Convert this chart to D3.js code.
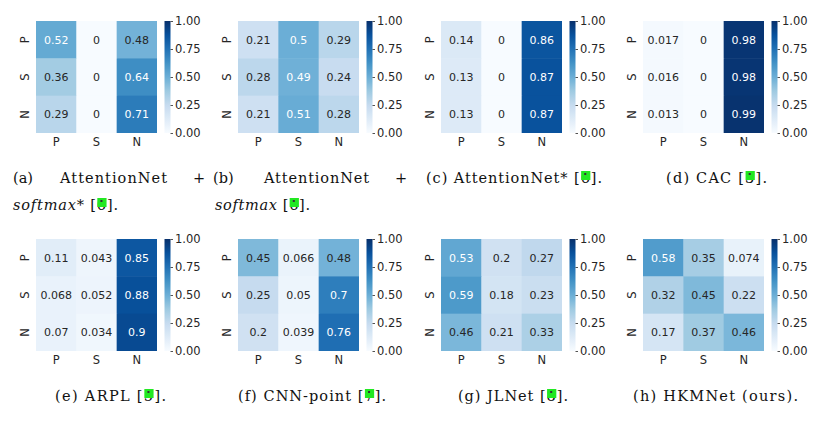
<!DOCTYPE html>
<html><head><meta charset="utf-8">
<script src="https://cdn.jsdelivr.net/npm/d3@7"></script>
<style>body{margin:0;background:#fff} svg{display:block}</style>
</head><body>
<svg id="c" width="814" height="422"></svg>
<script>
const categories = ["P", "S", "N"];
const colorbarTicks = [0, 0.25, 0.5, 0.75, 1];

const attnSoftmaxStar = [[0.52, 0, 0.48], [0.36, 0, 0.64], [0.29, 0, 0.71]];
const attnSoftmax     = [[0.21, 0.5, 0.29], [0.28, 0.49, 0.24], [0.21, 0.51, 0.28]];
const attnStar        = [[0.14, 0, 0.86], [0.13, 0, 0.87], [0.13, 0, 0.87]];
const cac             = [[0.017, 0, 0.98], [0.016, 0, 0.98], [0.013, 0, 0.99]];
const arpl            = [[0.11, 0.043, 0.85], [0.068, 0.052, 0.88], [0.07, 0.034, 0.9]];
const cnnPoint        = [[0.45, 0.066, 0.48], [0.25, 0.05, 0.7], [0.2, 0.039, 0.76]];
const jlNet           = [[0.53, 0.2, 0.27], [0.59, 0.18, 0.23], [0.46, 0.21, 0.33]];
const hkmNet          = [[0.58, 0.35, 0.074], [0.32, 0.45, 0.22], [0.17, 0.37, 0.46]];

const panels = [attnSoftmaxStar, attnSoftmax, attnStar, cac, arpl, cnnPoint, jlNet, hkmNet];

// caption pieces: [x, baseline y, end x (or null), normal text, italic text, citation number]
const captionPieces = [
  [13, 183, null, "(a)", null, null],
  [60, 183, 167, "AttentionNet", null, null],
  [193, 183, null, "+", null, null],
  [13, 210, 118, "", "softmax*", "6"],
  [213, 183, null, "(b)", null, null],
  [264, 183, 369, "AttentionNet", null, null],
  [395, 183, null, "+", null, null],
  [215, 210, 310, "", "softmax", "6"],
  [426, 183, 602, "(c) AttentionNet*", null, "6"],
  [666, 183, 767, "(d) CAC", null, "3"],
  [55, 401, 166, "(e) ARPL", null, "5"],
  [238, 401, 386, "(f) CNN-point", null, "7"],
  [458, 401, 568, "(g) JLNet", null, "8"],
  [633, 401, 798, "(h) HKMNet (ours).", null, null]
];

const svg = d3.select("#c");
svg.append("rect").attr("width", 814).attr("height", 422).attr("fill", "#fff");
const blues = d3.piecewise(d3.interpolateRgb, d3.schemeBlues[9]);
const color = d3.scaleSequential(blues).domain([0, 1]);
const fmt = d3.format(".2~g");
const tickFmt = d3.format(".2f");
const colX = [36, 238, 441, 643], rowY = [21, 239], W = 121, H = 112;
const txt = "#262626";

function lum(c) {
  const r = d3.rgb(c);
  const f = v => { v /= 255; return v <= 0.03928 ? v / 12.92 : Math.pow((v + 0.055) / 1.055, 2.4); };
  return 0.2126 * f(r.r) + 0.7152 * f(r.g) + 0.0722 * f(r.b);
}

const defs = svg.append("defs");
const grad = defs.append("linearGradient").attr("id", "cb")
  .attr("x1", 0).attr("y1", 1).attr("x2", 0).attr("y2", 0);
d3.range(0, 41).forEach(k => grad.append("stop").attr("offset", k / 40).attr("stop-color", color(k / 40)));

panels.forEach((data, i) => {
  const g = svg.append("g").attr("transform", `translate(${colX[i % 4]},${rowY[Math.floor(i / 4)]})`);
  const x = d3.scaleBand().domain(categories).range([0, W]);
  const y = d3.scaleBand().domain(categories).range([0, H]);
  const cb = d3.scaleLinear().domain([0, 1]).range([H, 0]);

  data.forEach((row, ri) => row.forEach((v, ci) => {
    const c = color(v);
    g.append("rect")
      .attr("x", x(categories[ci])).attr("y", y(categories[ri]))
      .attr("width", x.bandwidth() + (ci < 2 ? 0.5 : 0))
      .attr("height", y.bandwidth() + (ri < 2 ? 0.5 : 0))
      .attr("fill", c);
    g.append("text")
      .attr("x", x(categories[ci]) + x.bandwidth() / 2)
      .attr("y", y(categories[ri]) + y.bandwidth() / 2)
      .attr("dy", "0.36em")
      .attr("text-anchor", "middle")
      .attr("font-family", "DejaVu Sans").attr("font-size", 11)
      .attr("fill", lum(c) > 0.4 ? txt : "#fff")
      .text(fmt(v));
  }));

  const xa = g.append("g").attr("transform", `translate(0,${H})`)
    .call(d3.axisBottom(x).tickSize(0).tickPadding(5));
  xa.select(".domain").remove();
  xa.selectAll("text").attr("font-family", "DejaVu Sans").attr("font-size", 11.5).attr("fill", txt);

  const ya = g.append("g").call(d3.axisLeft(y).tickSize(0));
  ya.select(".domain").remove();
  ya.selectAll("text").attr("transform", "rotate(-90)").attr("x", 0).attr("y", -7).attr("dy", 0)
    .attr("text-anchor", "middle")
    .attr("font-family", "DejaVu Sans").attr("font-size", 11.5).attr("fill", txt);

  const cg = g.append("g").attr("transform", `translate(${W + 7.5},0)`);
  cg.append("rect").attr("width", 6).attr("height", H).attr("fill", "url(#cb)");
  const ca = cg.append("g").attr("transform", "translate(6,0)")
    .call(d3.axisRight(cb).tickValues(colorbarTicks).tickFormat(tickFmt).tickSize(2.5).tickPadding(2));
  ca.select(".domain").remove();
  ca.selectAll("line").attr("stroke", txt).attr("stroke-width", 0.8);
  ca.selectAll("text").attr("font-family", "DejaVu Sans").attr("font-size", 11.5).attr("fill", txt);
});

captionPieces.forEach(([x, y, end, normal, italic, cite]) => {
  const t = svg.append("text").attr("x", x).attr("y", y)
    .attr("font-family", "DejaVu Serif").attr("font-size", 14.5).attr("fill", "#111");
  let idx = 0;
  if (italic) { t.append("tspan").attr("font-style", "italic").text(italic); idx += italic.length; }
  if (normal) { t.append("tspan").text(normal); idx += normal.length; }
  let citeIdx = -1;
  if (cite) {
    t.append("tspan").text(" ["); idx += 2;
    citeIdx = idx;
    t.append("tspan").text(cite);
    t.append("tspan").text("].");
  }
  if (end) t.attr("textLength", end - x).attr("lengthAdjust", "spacing");
  if (cite) {
    const node = t.node();
    const e = node.getExtentOfChar(citeIdx);
    svg.append("rect").attr("x", e.x + 0.5).attr("y", y - 12).attr("width", e.width).attr("height", 9)
      .attr("fill", "#22e822");
    svg.append("rect").attr("x", e.x + e.width / 2 - 1).attr("y", y - 10).attr("width", 2).attr("height", 2)
      .attr("fill", "#333");
  }
});
</script>
</body></html>
